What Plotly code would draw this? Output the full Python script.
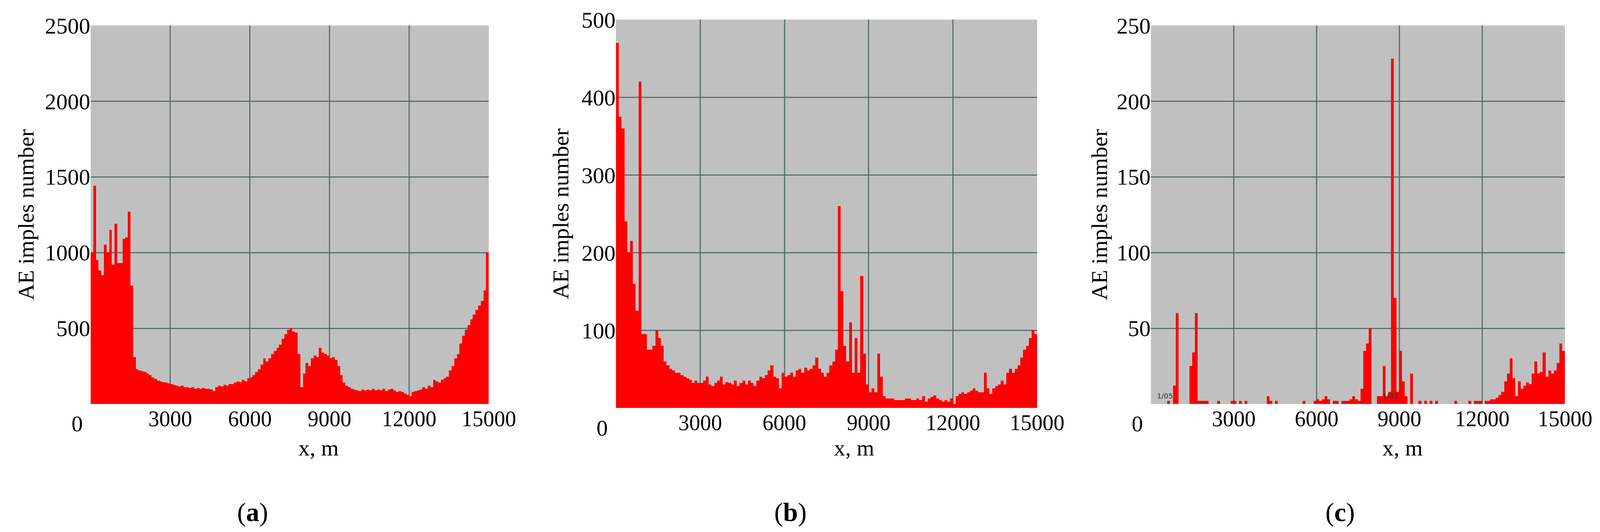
import numpy as np
import plotly.graph_objects as go

# AE impulse counts per 100 m bin, 0..15000 m
bin_start = np.arange(0, 15000, 100)

ae_a = [
    1000, 1440, 950, 880, 850, 1050, 1000, 1150, 920, 1190,
    930, 930, 1090, 1100, 1270, 780, 310, 230, 220, 215,
    210, 200, 190, 175, 165, 155, 150, 145, 140, 135,
    130, 125, 120, 115, 120, 110, 110, 105, 110, 100,
    105, 100, 105, 100, 100, 95, 85, 110, 120, 115,
    125, 120, 130, 130, 140, 150, 145, 160, 150, 170,
    175, 190, 210, 230, 260, 300, 280, 300, 330, 350,
    370, 390, 430, 460, 490, 500, 480, 470, 330, 110,
    200, 270, 250, 300, 320, 310, 370, 340, 330, 320,
    300, 310, 290, 250, 190, 140, 120, 110, 100, 95,
    90, 85, 95, 90, 95, 90, 100, 90, 95, 90,
    100, 85, 95, 100, 90, 80, 85, 80, 70, 60,
    50, 80, 85, 90, 95, 110, 100, 120, 110, 160,
    150, 140, 160, 170, 180, 220, 250, 300, 330, 400,
    450, 490, 520, 560, 590, 620, 650, 680, 750, 1000,
]

ae_b = [
    470, 375, 360, 240, 200, 215, 160, 125, 420, 95,
    95, 75, 75, 80, 100, 90, 80, 60, 55, 50,
    48, 45, 45, 42, 40, 38, 36, 32, 35, 32,
    32, 35, 40, 30, 28, 32, 35, 40, 30, 33,
    32, 30, 35, 28, 32, 35, 30, 35, 32, 28,
    35, 40, 38, 42, 48, 55, 40, 38, 25, 45,
    40, 42, 45, 40, 48, 50, 45, 52, 48, 50,
    55, 65, 50, 45, 40, 45, 55, 60, 75, 260,
    150, 80, 60, 110, 45, 90, 45, 170, 70, 30,
    20, 25, 20, 70, 40, 15, 12, 12, 12, 10,
    10, 10, 10, 12, 12, 10, 10, 12, 10, 15,
    8, 12, 14, 16, 12, 10, 8, 10, 8, 12,
    5, 15, 18, 20, 18, 20, 22, 25, 22, 20,
    20, 45, 25, 18, 25, 28, 30, 35, 30, 45,
    50, 45, 50, 55, 65, 75, 80, 90, 100, 95,
]

ae_c = [
    0, 0, 0, 0, 0, 0, 2, 0, 12, 60,
    0, 0, 0, 0, 25, 34, 60, 2, 2, 2,
    2, 0, 0, 0, 2, 0, 0, 0, 0, 2,
    2, 0, 2, 0, 2, 0, 0, 0, 0, 0,
    0, 0, 5, 2, 0, 2, 0, 0, 0, 0,
    0, 0, 0, 0, 0, 2, 0, 0, 0, 2,
    3, 2, 3, 5, 3, 0, 2, 2, 0, 2,
    2, 2, 3, 5, 3, 2, 10, 35, 40, 50,
    0, 0, 5, 5, 25, 5, 8, 228, 70, 8,
    35, 15, 5, 0, 20, 0, 0, 2, 0, 2,
    0, 2, 0, 2, 0, 0, 0, 0, 0, 0,
    2, 0, 0, 0, 0, 2, 0, 2, 2, 2,
    0, 2, 2, 3, 3, 4, 6, 8, 15, 20,
    30, 17, 5, 15, 10, 12, 14, 13, 20, 28,
    20, 21, 34, 18, 22, 20, 22, 27, 40, 35,
]

y_max = [2500, 500, 250]
y_ticks = [[500, 1000, 1500, 2000, 2500], [100, 200, 300, 400, 500], [50, 100, 150, 200, 250]]
x_ticks = [3000, 6000, 9000, 12000, 15000]
labels = ["a", "b", "c"]

x_domains = [(0.0549, 0.3047), (0.3845, 0.6488), (0.7202, 0.9800)]
y_domains = [(0.2465, 0.958), (0.239, 0.969), (0.2465, 0.958)]
ytitle_x = [0.0142, 0.350, 0.6877]
xtitle_x = [0.198, 0.534, 0.878]
panel_x = [0.1565, 0.494, 0.839]

font = "Liberation Serif"
fsize = 58
grid = "#5c6e6e"
tfont = dict(family=font, size=fsize, color="black")

fig = go.Figure()
annotations = []
for i, data in enumerate([ae_a, ae_b, ae_c]):
    n = "" if i == 0 else str(i + 1)
    fig.add_bar(
        x=bin_start + 50, y=data, width=100,
        marker=dict(color="#ff0000", line=dict(width=0)),
        xaxis="x" + n, yaxis="y" + n, showlegend=False,
    )
    fig.layout["xaxis" + n] = dict(
        domain=x_domains[i], range=[0, 15000], anchor="y" + n, automargin=False,
        tickvals=x_ticks, ticktext=[str(t) for t in x_ticks],
        showgrid=True, gridcolor=grid, gridwidth=3,
        zeroline=False, showline=False, ticks="", tickfont=dict(family=font, size=56, color="black"),
    )
    fig.layout["yaxis" + n] = dict(
        domain=y_domains[i], range=[0, y_max[i]], anchor="x" + n, automargin=False,
        tickvals=y_ticks[i], showgrid=True, gridcolor=grid, gridwidth=3,
        zeroline=False, showline=False, ticks="", tickfont=tfont,
    )
    annotations.append(dict(
        text="0", xref="paper", yref="paper", x=x_domains[i][0] - 0.0045, y=y_domains[i][0] - 0.012,
        xanchor="right", yanchor="top", showarrow=False, font=tfont,
    ))
    annotations.append(dict(
        text="AE imples number", xref="paper", yref="paper", x=ytitle_x[i],
        y=(y_domains[i][0] + y_domains[i][1]) / 2, textangle=-90,
        xanchor="center", yanchor="middle", showarrow=False, font=tfont,
    ))
    annotations.append(dict(
        text="x, m", xref="paper", yref="paper", x=xtitle_x[i], y=0.164,
        xanchor="center", yanchor="middle", showarrow=False, font=tfont,
    ))
    annotations.append(dict(
        text="(<b>%s</b>)" % labels[i], xref="paper", yref="paper", x=panel_x[i], y=0.043,
        xanchor="center", yanchor="middle", showarrow=False,
        font=dict(family=font, size=68, color="black"),
    ))

for xv in [500, 8650]:
    annotations.append(dict(
        text="1/05", xref="x3", yref="y3", x=xv, y=2, xanchor="center", yanchor="bottom",
        showarrow=False, font=dict(family="DejaVu Sans", size=18, color="#333333"),
    ))

fig.update_layout(
    autosize=True, height=1363,
    margin=dict(l=0, r=0, t=0, b=0),
    paper_bgcolor="white", plot_bgcolor="#c0c0c0",
    bargap=0, annotations=annotations,
)

# fill the window width instead of a fixed 4299 px so nothing spills past the edge
fig.write_html("out.html", default_width="100%", default_height="1363px")
